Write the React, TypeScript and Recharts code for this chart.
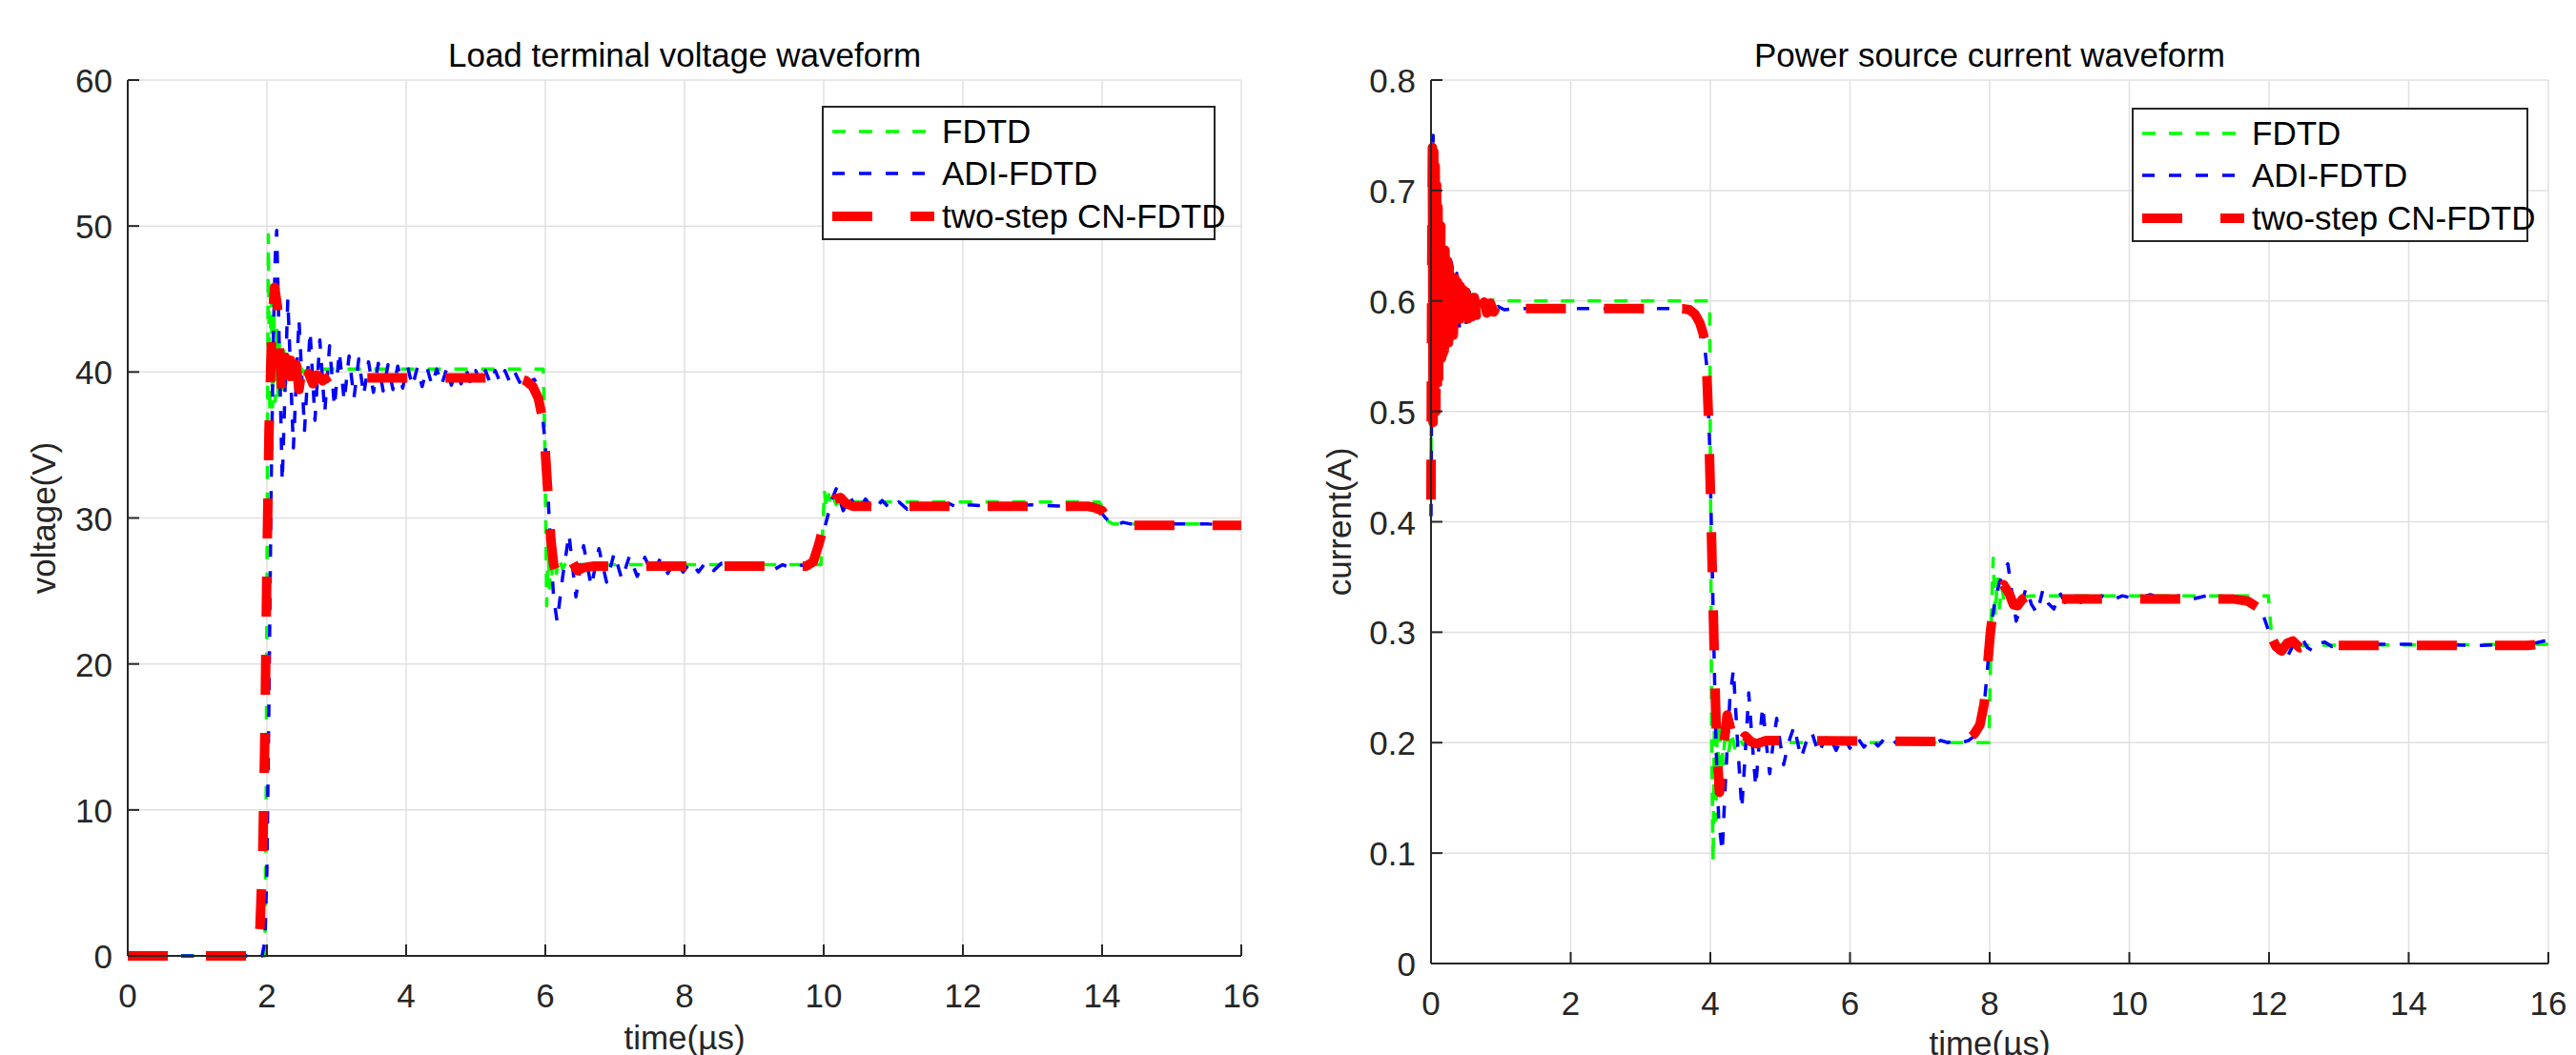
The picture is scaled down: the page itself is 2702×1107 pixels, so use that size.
import { LineChart, Line, XAxis, YAxis, CartesianGrid, Legend } from 'recharts';

const AXIS = '#262626';
const GRID = '#e0e0e0';
const FONT = '"Liberation Sans", Arial, Helvetica, sans-serif';
const TICK = 12;

const TIME_TICKS = [0, 2, 4, 6, 8, 10, 12, 14, 16];
const VOLT_TICKS = [0, 10, 20, 30, 40, 50, 60];
const AMP_TICKS = [0, 0.1, 0.2, 0.3, 0.4, 0.5, 0.6, 0.7, 0.8];

// load terminal voltage (t in us, V)
const voltFdtd: [number, number][] = [
  [0, 0], [1.97, 0], [1.99, 12], [2.01, 38], [2.02, 49.4], [2.04, 37.2], [2.06, 46.0], [2.08, 37.6],
  [2.1, 44.2], [2.12, 38.0], [2.14, 43.0], [2.16, 38.4], [2.18, 42.2], [2.21, 38.8], [2.24, 41.6],
  [2.27, 39.2], [2.3, 41.2], [2.34, 39.5], [2.38, 40.8], [2.42, 39.8], [2.46, 40.5], [2.52, 40.0],
  [2.6, 40.2], [5.97, 40.2], [5.99, 36.0], [6.01, 28.0], [6.02, 24.0], [6.04, 28.2], [6.06, 25.2],
  [6.08, 27.8], [6.1, 25.8], [6.13, 27.5], [6.16, 26.2], [6.2, 27.2], [6.25, 26.5], [6.3, 27.0],
  [6.36, 26.7], [6.5, 26.8], [9.96, 26.8], [9.99, 29.5], [10.01, 31.9], [10.04, 30.6], [10.07, 31.6],
  [10.1, 30.8], [10.14, 31.4], [10.18, 30.9], [10.23, 31.2], [10.3, 31.1], [13.96, 31.1],
  [14.03, 30.5], [14.08, 29.8], [14.15, 29.6], [16, 29.6],
];

const voltAdi: [number, number][] = [
  [0, 0], [1.93, 0], [1.97, 1], [2.0, 6], [2.03, 18], [2.06, 32], [2.09, 42], [2.12, 48], [2.14, 49.7],
  [2.22, 32.5], [2.3, 45.0], [2.38, 34.8], [2.46, 43.6], [2.54, 36.0], [2.62, 42.8], [2.69, 36.7],
  [2.76, 42.2], [2.83, 37.2], [2.9, 41.8], [2.97, 37.6], [3.04, 41.4], [3.11, 38.0], [3.18, 41.1],
  [3.25, 38.2], [3.32, 40.9], [3.39, 38.4], [3.46, 40.7], [3.53, 38.6], [3.6, 40.6], [3.67, 38.7],
  [3.74, 40.5], [3.81, 38.8], [3.88, 40.4], [3.95, 38.9], [4.02, 40.4], [4.09, 39.0], [4.16, 40.3],
  [4.23, 39.0], [4.3, 40.3], [4.37, 39.1], [4.44, 40.2], [4.51, 39.1], [4.58, 40.2], [4.65, 39.1],
  [4.72, 40.2], [4.79, 39.2], [4.86, 40.2], [4.93, 39.2], [5.0, 40.1], [5.07, 39.2], [5.14, 40.1],
  [5.21, 39.2], [5.28, 40.1], [5.35, 39.3], [5.42, 40.1], [5.49, 39.3], [5.56, 40.0], [5.63, 39.3],
  [5.7, 39.9], [5.77, 39.3], [5.84, 39.5], [5.9, 39.0], [5.95, 37.5], [6.0, 35.0], [6.04, 31.5],
  [6.08, 27.5], [6.12, 24.5], [6.17, 22.9], [6.25, 26.0], [6.34, 28.9], [6.44, 24.6], [6.55, 28.1],
  [6.66, 25.3], [6.77, 27.9], [6.88, 25.6], [6.99, 27.6], [7.1, 25.8], [7.21, 27.4], [7.32, 26.0],
  [7.43, 27.3], [7.54, 26.1], [7.65, 27.2], [7.76, 26.2], [7.87, 27.1], [7.98, 26.3], [8.09, 27.0],
  [8.2, 26.3], [8.31, 27.0], [8.42, 26.4], [8.53, 26.9], [8.64, 26.4], [8.75, 26.9], [8.86, 26.5],
  [8.97, 26.9], [9.08, 26.5], [9.19, 26.8], [9.3, 26.5], [9.41, 26.8], [9.52, 26.6], [9.63, 26.8],
  [9.74, 26.7], [9.82, 27.0], [9.9, 27.3], [9.97, 28.5], [10.05, 30.0], [10.12, 31.3], [10.18, 32.0],
  [10.28, 30.5], [10.38, 31.5], [10.48, 30.4], [10.6, 31.3], [10.72, 30.5], [10.84, 31.2],
  [10.96, 30.6], [11.08, 31.1], [11.2, 30.6], [11.32, 31.0], [11.44, 30.7], [11.56, 31.0],
  [11.68, 30.7], [11.8, 31.0], [11.92, 30.7], [12.04, 30.9], [12.5, 30.8], [13.0, 30.9], [13.5, 30.8],
  [13.85, 30.8], [13.95, 30.6], [14.05, 30.0], [14.12, 29.7], [14.2, 29.5], [14.3, 29.7], [14.4, 29.6],
  [15.0, 29.6], [15.5, 29.6], [16, 29.4],
];

const voltCn: [number, number][] = [
  [0, 0], [1.86, 0], [1.9, 2], [1.94, 7], [1.97, 15], [2.0, 27], [2.03, 36], [2.07, 43], [2.11, 45.8],
  [2.15, 44.5], [2.19, 40.5], [2.22, 38.0], [2.26, 41.0], [2.3, 38.2], [2.34, 40.8], [2.38, 38.5],
  [2.42, 40.5], [2.46, 38.8], [2.5, 40.2], [2.55, 39.0], [2.6, 39.9], [2.66, 39.2], [2.72, 39.8],
  [2.8, 39.4], [2.9, 39.7], [3.0, 39.6], [5.6, 39.6], [5.72, 39.4], [5.82, 39.0], [5.9, 38.2],
  [5.96, 36.8], [6.0, 34.5], [6.04, 31.5], [6.08, 28.5], [6.12, 26.8], [6.16, 26.2], [6.22, 26.6],
  [6.28, 27.4], [6.33, 27.5], [6.4, 26.9], [6.46, 26.4], [6.55, 26.6], [6.7, 26.7], [9.75, 26.7],
  [9.85, 27.0], [9.93, 28.2], [10.0, 29.5], [10.08, 30.6], [10.16, 31.3], [10.24, 31.4], [10.32, 31.0],
  [10.42, 30.8], [13.8, 30.8], [13.9, 30.7], [14.0, 30.5], [14.07, 30.0], [14.14, 29.5], [14.22, 29.3],
  [14.32, 29.4], [14.45, 29.5], [16, 29.5],
];

// power source current (t in us, A)
const ampFdtd: [number, number][] = [
  [0, 0.44], [0.01, 0.7], [0.02, 0.52], [0.03, 0.71], [0.05, 0.53], [0.07, 0.69], [0.09, 0.54],
  [0.11, 0.67], [0.13, 0.55], [0.15, 0.65], [0.17, 0.56], [0.2, 0.64], [0.23, 0.565], [0.26, 0.63],
  [0.3, 0.57], [0.34, 0.62], [0.38, 0.58], [0.42, 0.614], [0.46, 0.585], [0.5, 0.61], [0.55, 0.59],
  [0.6, 0.606], [0.66, 0.595], [0.72, 0.603], [0.8, 0.598], [0.9, 0.601], [1.0, 0.6], [3.99, 0.6],
  [4.005, 0.4], [4.02, 0.2], [4.04, 0.092], [4.06, 0.24], [4.08, 0.13], [4.1, 0.23], [4.12, 0.16],
  [4.15, 0.22], [4.18, 0.18], [4.22, 0.215], [4.26, 0.19], [4.3, 0.21], [4.35, 0.195], [4.4, 0.205],
  [4.47, 0.198], [4.55, 0.202], [4.65, 0.2], [7.99, 0.2], [8.02, 0.3], [8.05, 0.367], [8.08, 0.315],
  [8.11, 0.35], [8.14, 0.322], [8.17, 0.342], [8.21, 0.327], [8.25, 0.338], [8.3, 0.33], [8.36, 0.335],
  [8.45, 0.332], [8.6, 0.333], [11.99, 0.333], [12.02, 0.31], [12.05, 0.288], [12.1, 0.29],
  [12.2, 0.288], [16, 0.289],
];

const ampAdi: [number, number][] = [
  [0, 0.405], [0.015, 0.6], [0.03, 0.75], [0.045, 0.5], [0.06, 0.73], [0.075, 0.51], [0.09, 0.7],
  [0.11, 0.52], [0.13, 0.68], [0.15, 0.54], [0.17, 0.66], [0.2, 0.55], [0.23, 0.645], [0.26, 0.56],
  [0.29, 0.635], [0.33, 0.565], [0.37, 0.625], [0.41, 0.572], [0.45, 0.615], [0.5, 0.578],
  [0.55, 0.608], [0.6, 0.583], [0.66, 0.603], [0.72, 0.587], [0.8, 0.598], [0.88, 0.589],
  [0.96, 0.595], [1.05, 0.592], [1.2, 0.593], [3.6, 0.593], [3.72, 0.591], [3.82, 0.585], [3.9, 0.57],
  [3.95, 0.54], [3.99, 0.47], [4.02, 0.38], [4.05, 0.29], [4.08, 0.2], [4.12, 0.13], [4.17, 0.101],
  [4.22, 0.17], [4.28, 0.24], [4.33, 0.266], [4.39, 0.2], [4.45, 0.14], [4.5, 0.19], [4.55, 0.245],
  [4.6, 0.2], [4.65, 0.16], [4.7, 0.2], [4.75, 0.233], [4.8, 0.2], [4.85, 0.172], [4.9, 0.2],
  [4.95, 0.222], [5.0, 0.2], [5.05, 0.18], [5.12, 0.2], [5.2, 0.215], [5.25, 0.2], [5.3, 0.186],
  [5.37, 0.2], [5.45, 0.21], [5.5, 0.2], [5.55, 0.19], [5.62, 0.2], [5.7, 0.208], [5.75, 0.2],
  [5.8, 0.193], [5.9, 0.206], [6.0, 0.195], [6.1, 0.205], [6.2, 0.196], [6.3, 0.204], [6.4, 0.197],
  [6.5, 0.204], [6.6, 0.198], [6.7, 0.203], [6.8, 0.198], [6.9, 0.203], [7.0, 0.199], [7.1, 0.202],
  [7.2, 0.199], [7.3, 0.202], [7.4, 0.2], [7.5, 0.202], [7.6, 0.2], [7.7, 0.202], [7.78, 0.206],
  [7.86, 0.216], [7.93, 0.24], [7.98, 0.275], [8.03, 0.31], [8.08, 0.33], [8.14, 0.345], [8.2, 0.355],
  [8.26, 0.362], [8.32, 0.335], [8.38, 0.31], [8.44, 0.322], [8.52, 0.34], [8.6, 0.325], [8.68, 0.317],
  [8.76, 0.338], [8.84, 0.326], [8.92, 0.321], [9.0, 0.336], [9.1, 0.325], [9.2, 0.334], [9.3, 0.327],
  [9.4, 0.333], [9.5, 0.328], [9.6, 0.333], [9.75, 0.329], [9.9, 0.333], [10.1, 0.33], [10.3, 0.334],
  [10.5, 0.33], [10.7, 0.333], [10.9, 0.33], [11.1, 0.333], [11.3, 0.329], [11.5, 0.332], [11.7, 0.329],
  [11.82, 0.324], [11.92, 0.315], [12.0, 0.3], [12.08, 0.287], [12.16, 0.279], [12.25, 0.276],
  [12.32, 0.285], [12.4, 0.294], [12.47, 0.295], [12.55, 0.286], [12.63, 0.283], [12.7, 0.29],
  [12.8, 0.291], [12.9, 0.287], [13.0, 0.289], [14, 0.289], [15, 0.288], [15.8, 0.29], [16, 0.293],
];

const ampCn: [number, number][] = [
  [0, 0.42], [0.01, 0.62], [0.02, 0.739], [0.03, 0.49], [0.04, 0.735], [0.05, 0.495], [0.06, 0.722],
  [0.07, 0.5], [0.08, 0.705], [0.09, 0.512], [0.1, 0.685], [0.11, 0.525], [0.12, 0.676], [0.13, 0.538],
  [0.14, 0.668], [0.15, 0.548], [0.16, 0.66], [0.17, 0.552], [0.18, 0.652], [0.19, 0.555],
  [0.2, 0.646], [0.21, 0.557], [0.22, 0.641], [0.23, 0.56], [0.24, 0.636], [0.25, 0.562],
  [0.26, 0.631], [0.27, 0.564], [0.28, 0.627], [0.29, 0.566], [0.3, 0.625], [0.32, 0.569],
  [0.34, 0.621], [0.36, 0.573], [0.38, 0.617], [0.4, 0.577], [0.42, 0.613], [0.44, 0.58], [0.46, 0.61],
  [0.48, 0.582], [0.5, 0.608], [0.53, 0.584], [0.56, 0.605], [0.59, 0.586], [0.62, 0.603],
  [0.65, 0.587], [0.68, 0.601], [0.72, 0.588], [0.76, 0.599], [0.8, 0.589], [0.85, 0.598], [0.9, 0.59],
  [0.95, 0.597], [1.0, 0.591], [1.08, 0.595], [1.15, 0.593], [3.6, 0.593], [3.7, 0.592], [3.78, 0.588],
  [3.85, 0.58], [3.9, 0.57], [3.94, 0.55], [3.97, 0.5], [4.0, 0.43], [4.03, 0.35], [4.06, 0.27],
  [4.09, 0.2], [4.13, 0.155], [4.18, 0.19], [4.24, 0.225], [4.3, 0.21], [4.36, 0.192], [4.43, 0.2],
  [4.5, 0.206], [4.58, 0.201], [4.66, 0.199], [4.8, 0.202], [7.6, 0.201], [7.7, 0.203], [7.78, 0.208],
  [7.86, 0.216], [7.92, 0.235], [7.97, 0.27], [8.01, 0.3], [8.06, 0.325], [8.12, 0.338], [8.2, 0.343],
  [8.28, 0.335], [8.34, 0.325], [8.4, 0.324], [8.47, 0.33], [8.55, 0.333], [8.65, 0.329], [8.8, 0.33],
  [11.5, 0.33], [11.7, 0.328], [11.85, 0.322], [11.95, 0.31], [12.02, 0.298], [12.1, 0.287],
  [12.18, 0.283], [12.26, 0.29], [12.34, 0.292], [12.44, 0.286], [12.55, 0.288], [13, 0.288],
  [15.7, 0.288], [15.85, 0.289], [16, 0.291],
];

const SERIES = [
  { name: 'FDTD', color: '#00ff00', width: 3.5, dash: '14 14' },
  { name: 'ADI-FDTD', color: '#0000ff', width: 3.5, dash: '13 15' },
  { name: 'two-step CN-FDTD', color: '#ff0000', width: 10, dash: '42 40' },
];

const toPoints = (rows: [number, number][]) => rows.map(([t, v]) => ({ t, v }));

function LeftTick(props: any) {
  const { x, y, payload, gap } = props;
  return (
    <g>
      <line x1={x} y1={y} x2={x + TICK} y2={y} stroke={AXIS} strokeWidth={2} />
      <text x={x - gap} y={y + 13} textAnchor="end" fontSize={35} fill={AXIS} fontFamily={FONT}>
        {String(payload.value)}
      </text>
    </g>
  );
}

function BottomTick(props: any) {
  const { x, y, payload } = props;
  return (
    <g>
      <line x1={x} y1={y} x2={x} y2={y - TICK} stroke={AXIS} strokeWidth={2} />
      <text x={x} y={y + 54} textAnchor="middle" fontSize={35} fill={AXIS} fontFamily={FONT}>
        {String(payload.value)}
      </text>
    </g>
  );
}

function TopTick(props: any) {
  const { x, y } = props;
  return <line x1={x} y1={y} x2={x} y2={y + TICK} stroke={AXIS} strokeWidth={2} />;
}

function RightTick(props: any) {
  const { x, y } = props;
  return <line x1={x} y1={y} x2={x - TICK} y2={y} stroke={AXIS} strokeWidth={2} />;
}

// x-axis label plus the panel title, both centred on the plot area
function XLabel(props: any) {
  const vb = props.viewBox ?? { x: 0, y: 1000, width: 0 };
  const cx = vb.x + vb.width / 2;
  return (
    <g>
      <text x={cx} y={vb.y - props.plotHeight - 14} textAnchor="middle" fontSize={35} fill="#000" fontFamily={FONT}>
        {props.title}
      </text>
      <text x={cx} y={vb.y + props.gap} textAnchor="middle" fontSize={35} fill={AXIS} fontFamily={FONT}>
        {props.text}
      </text>
    </g>
  );
}

function YLabel(props: any) {
  const vb = props.viewBox ?? { x: 0, y: 84, width: 60, height: 900 };
  const bx = vb.x + vb.width - props.gap;
  const cy = vb.y + vb.height / 2;
  return (
    <text x={bx} y={cy} transform={`rotate(-90, ${bx}, ${cy})`} textAnchor="middle" fontSize={35} fill={AXIS} fontFamily={FONT}>
      {props.text}
    </text>
  );
}

function LegendBox(props: any) {
  const rows = [25, 69, 114];
  return (
    <div
      style={{
        width: props.boxWidth,
        height: 141,
        border: `2px solid ${AXIS}`,
        background: '#fff',
        boxSizing: 'border-box',
        position: 'relative',
        fontFamily: FONT,
      }}
    >
      {SERIES.map((s, i) => (
        <div
          key={s.name}
          style={{ position: 'absolute', left: 0, top: rows[i] - 22, height: 44, display: 'flex', alignItems: 'center' }}
        >
          <svg width={120} height={44} style={{ display: 'block' }}>
            <line x1={9} x2={116} y1={22} y2={22} stroke={s.color} strokeWidth={s.width} strokeDasharray={s.dash} />
          </svg>
          <span style={{ fontSize: 35, marginLeft: 4, color: '#000', whiteSpace: 'nowrap', lineHeight: '44px' }}>
            {s.name}
          </span>
        </div>
      ))}
    </div>
  );
}

interface PanelProps {
  left: number;
  width: number;
  margin: { top: number; right: number; bottom: number; left: number };
  plotHeight: number;
  title: string;
  yLabel: string;
  yLabelGap: number;
  xLabelGap: number;
  yTicks: number[];
  data: [number, number][][];
  legendLeft: number;
  legendTop: number;
  legendWidth: number;
}

function Panel({
  left, width, margin, plotHeight, title, yLabel, yLabelGap, xLabelGap, yTicks, data, legendLeft, legendTop, legendWidth,
}: PanelProps) {
  const yDomain = [yTicks[0], yTicks[yTicks.length - 1]];
  return (
    <div style={{ position: 'absolute', left, top: 0 }}>
      <LineChart width={width} height={1107} margin={margin}>
        <CartesianGrid stroke={GRID} strokeWidth={1.5} />
        <XAxis
          dataKey="t"
          type="number"
          domain={[0, 16]}
          ticks={TIME_TICKS}
          interval={0}
          height={60}
          tickSize={0}
          tickMargin={0}
          tickLine={false}
          axisLine={{ stroke: AXIS, strokeWidth: 2 }}
          tick={<BottomTick />}
          label={<XLabel text="time(µs)" title={title} plotHeight={plotHeight} gap={xLabelGap} />}
        />
        <XAxis
          xAxisId="top"
          orientation="top"
          dataKey="t"
          type="number"
          domain={[0, 16]}
          ticks={TIME_TICKS}
          interval={0}
          height={0}
          tickSize={0}
          tickMargin={0}
          tickLine={false}
          axisLine={{ stroke: AXIS, strokeWidth: 2 }}
          tick={<TopTick />}
        />
        <YAxis
          type="number"
          domain={yDomain}
          ticks={yTicks}
          interval={0}
          width={60}
          tickSize={0}
          tickMargin={0}
          tickLine={false}
          axisLine={{ stroke: AXIS, strokeWidth: 2 }}
          tick={<LeftTick gap={16} />}
          label={<YLabel text={yLabel} gap={yLabelGap} />}
        />
        <YAxis
          yAxisId="right"
          orientation="right"
          type="number"
          domain={yDomain}
          ticks={yTicks}
          interval={0}
          width={0}
          tickSize={0}
          tickMargin={0}
          tickLine={false}
          axisLine={{ stroke: AXIS, strokeWidth: 2 }}
          tick={<RightTick />}
        />
        {SERIES.map((s, i) => (
          <Line
            key={s.name}
            name={s.name}
            data={toPoints(data[i])}
            dataKey="v"
            type="linear"
            stroke={s.color}
            strokeWidth={s.width}
            strokeDasharray={s.dash}
            strokeLinejoin="round"
            dot={false}
            activeDot={false}
            isAnimationActive={false}
          />
        ))}
        <Legend
          layout="vertical"
          align="center"
          verticalAlign="middle"
          wrapperStyle={{ left: legendLeft, top: legendTop, width: legendWidth, height: 141 }}
          content={<LegendBox boxWidth={legendWidth} />}
        />
      </LineChart>
    </div>
  );
}

export default function App() {
  return (
    <div
      style={{
        position: 'absolute',
        left: 0,
        top: 0,
        width: 2702,
        height: 1107,
        background: '#fff',
        overflow: 'hidden',
        fontFamily: FONT,
      }}
    >
      <Panel
        left={0}
        width={1350}
        margin={{ top: 84, right: 48, bottom: 44, left: 74 }}
        plotHeight={919}
        title="Load terminal voltage waveform"
        yLabel="voltage(V)"
        yLabelGap={76}
        xLabelGap={98}
        yTicks={VOLT_TICKS}
        data={[voltFdtd, voltAdi, voltCn]}
        legendLeft={862}
        legendTop={111}
        legendWidth={413}
      />
      <Panel
        left={1350}
        width={1352}
        margin={{ top: 84, right: 29, bottom: 36, left: 91 }}
        plotHeight={927}
        title="Power source current waveform"
        yLabel="current(A)"
        yLabelGap={84}
        xLabelGap={96}
        yTicks={AMP_TICKS}
        data={[ampFdtd, ampAdi, ampCn]}
        legendLeft={886}
        legendTop={113}
        legendWidth={416}
      />
    </div>
  );
}
